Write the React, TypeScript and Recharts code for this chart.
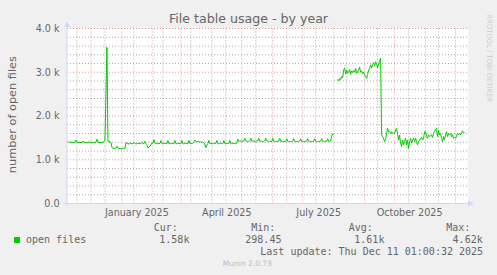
import { LineChart, Line, XAxis, YAxis, CartesianGrid, ReferenceLine } from "recharts";

// daily "open files" values, day 0 = 7 Nov 2024
const NOV_2024 = [1400, 1420, 1395, 1390, 1400, 1395, 1400, 1390, 1400, 1450, 1400, 1390, 1395, 1400, 1390, 1400, 1430, 1395, 1390, 1400, 1395, 1390, 1410, 1400];
const DEC_2024 = [1400, 1395, 1390, 1400, 1395, 1400, 1470, 1400, 1390, 1395, 1400, 1395, 1400, 1410, 1450, 2500, 3570, 1420, 1420, 1410, 1400, 1280, 1260, 1260, 1265, 1270, 1310, 1270, 1260, 1255, 1260];
const JAN_2025 = [1260, 1260, 1270, 1265, 1390, 1370, 1365, 1360, 1370, 1380, 1365, 1360, 1400, 1370, 1360, 1365, 1370, 1380, 1365, 1370, 1400, 1370, 1365, 1420, 1370, 1350, 1270, 1290, 1310, 1340, 1380];
const FEB_2025 = [1380, 1460, 1380, 1370, 1365, 1370, 1375, 1370, 1440, 1370, 1365, 1370, 1375, 1370, 1365, 1440, 1370, 1365, 1370, 1375, 1370, 1365, 1440, 1370, 1365, 1370, 1375, 1370];
const MAR_2025 = [1370, 1440, 1370, 1365, 1370, 1375, 1370, 1365, 1440, 1370, 1375, 1370, 1380, 1400, 1450, 1420, 1410, 1420, 1410, 1400, 1410, 1395, 1400, 1390, 1360, 1275, 1330, 1370, 1440, 1365, 1370];
const APR_2025 = [1370, 1365, 1370, 1375, 1370, 1440, 1370, 1365, 1370, 1375, 1370, 1365, 1440, 1370, 1365, 1370, 1375, 1370, 1440, 1370, 1365, 1370, 1375, 1370, 1365, 1380, 1470, 1430, 1420, 1425];
const MAY_2025 = [1420, 1425, 1430, 1490, 1430, 1420, 1425, 1420, 1430, 1490, 1425, 1420, 1425, 1420, 1415, 1425, 1430, 1490, 1425, 1420, 1425, 1420, 1415, 1430, 1490, 1430, 1420, 1425, 1420, 1415, 1420];
const JUN_2025 = [1490, 1425, 1420, 1415, 1420, 1425, 1420, 1490, 1425, 1420, 1415, 1420, 1415, 1420, 1480, 1420, 1415, 1420, 1415, 1420, 1425, 1480, 1420, 1415, 1420, 1415, 1420, 1425, 1480, 1420];
const JUL_2025 = [1415, 1420, 1415, 1420, 1425, 1480, 1420, 1415, 1420, 1415, 1420, 1425, 1480, 1420, 1415, 1420, 1415, 1420, 1425, 1480, 1420, 1415, 1420, 1425, 1420, 1480, 1425, 1420, 1430, 1540, 1590];
const AUG_2025 = [1570, null, null, null, 2840, 2800, 2860, 2830, 2900, 2870, 3050, 3100, 2960, 3050, 2980, 3000, 3060, 2950, 3030, 2990, 3040, 3000, 3090, 2980, 3010, 3060, 3120, 3000, 3030, 2970, 3000];
const SEP_2025 = [2940, 2900, 2860, 2950, 3050, 3080, 3170, 3100, 3180, 3220, 3150, 3240, 3190, 3100, 3200, 3250, 3320, 1570, 1530, 1480, 1410, 1490, 1600, 1720, 1640, 1650, 1600, 1640, 1600, 1610];
const OCT_2025 = [1600, 1680, 1720, 1600, 1450, 1560, 1380, 1300, 1450, 1340, 1420, 1490, 1340, 1450, 1260, 1410, 1490, 1380, 1450, 1490, 1410, 1490, 1410, 1340, 1410, 1450, 1490, 1510, 1450, 1480, 1640];
const NOV_2025 = [1640, 1530, 1490, 1570, 1530, 1550, 1570, 1510, 1600, 1650, 1700, 1720, 1530, 1680, 1570, 1600, 1490, 1410, 1530, 1450, 1570, 1640, 1530, 1600, 1570, 1600, 1530, 1570, 1490, 1510];
const DEC_2025 = [1490, 1530, 1600, 1570, 1600, 1570, 1600, 1660, 1640, 1610];

const MONTHS = [NOV_2024, DEC_2024, JAN_2025, FEB_2025, MAR_2025, APR_2025, MAY_2025, JUN_2025, JUL_2025, AUG_2025, SEP_2025, OCT_2025, NOV_2025, DEC_2025];

const X_TICK_DAYS = [70, 160, 252, 343];
const X_TICK_LABELS = ["January 2025", "April 2025", "July 2025", "October 2025"];
const Y_TICKS = [0, 1000, 2000, 3000, 4000];

// grid (day numbers of month starts / minor lines, value steps)
const MONTH_START_DAYS = [24, 55, 86, 114, 145, 175, 206, 236, 267, 298, 328, 359, 389];
const MINOR_DAYS = [10, 38, 67, 96, 124, 159, 189, 220, 249, 280, 311, 342, 372];
const MINOR_VALUES = [200, 400, 600, 800, 1200, 1400, 1600, 1800, 2200, 2400, 2600, 2800, 3200, 3400, 3600, 3800];
const MAJOR_VALUES = [1000, 2000, 3000, 4000];

const LEGEND_STATS = [
  { label: "Cur:", value: "1.58k", lx: 153.8, vx: 159.3 },
  { label: "Min:", value: "298.45", lx: 251.2, vx: 245.3 },
  { label: "Avg:", value: "1.61k", lx: 348.7, vx: 354.3 },
  { label: "Max:", value: "4.62k", lx: 446.2, vx: 452.6 },
];

const data = MONTHS.flat().map((v, day) => ({ day, v }));

const FONT = "'DejaVu Sans', sans-serif";
const MONO = "'DejaVu Sans Mono', monospace";
const TEXT = "#666666";
const AXIS = "#CFD6F8";
const GRID = "rgba(143,143,143,0.75)";
const MGRID = "rgba(222,79,79,0.6)";

const fmtY = (v: number) => (v === 0 ? "0.0" : `${(v / 1000).toFixed(1)} k`);
const fmtX = (d: number) => X_TICK_LABELS[X_TICK_DAYS.indexOf(d)] ?? "";

export default function App() {
  return (
    <div style={{ position: "relative", width: 497, height: 275, background: "#f0f0f0", fontFamily: FONT, color: TEXT, overflow: "hidden" }}>
      <style>{"body{margin:0}"}</style>
      <div style={{ position: "absolute", left: 0, top: 12.5, width: 497, textAlign: "center", fontSize: 12.6, lineHeight: "12.6px" }}>
        File table usage - by year
      </div>
      <div
        style={{
          position: "absolute", left: 13.2 - 100, top: 115 - 5.65, width: 200, height: 11.3,
          textAlign: "center", fontSize: 11.3, lineHeight: "11.3px", transform: "rotate(-90deg)", whiteSpace: "nowrap",
        }}
      >
        number of open files
      </div>
      <div
        style={{
          position: "absolute", left: 488.5 - 60, top: 58.3 - 3.4, width: 120, height: 6.8,
          textAlign: "center", fontSize: 6.8, lineHeight: "6.8px", transform: "rotate(90deg)", whiteSpace: "nowrap", color: "#cccccc",
        }}
      >
        RRDTOOL / TOBI OETIKER
      </div>

      <div style={{ position: "absolute", left: 0, top: 0 }}>
        <LineChart width={497} height={275} data={data} margin={{ top: 28.5, right: 29, bottom: 51.5, left: 0 }}>
          <CartesianGrid horizontal={false} vertical={false} fill="#ffffff" stroke="none" />
          {MINOR_VALUES.map((v) => (
            <ReferenceLine key={`h${v}`} y={v} stroke={GRID} strokeDasharray="1 2" />
          ))}
          {MINOR_DAYS.map((d) => (
            <ReferenceLine key={`v${d}`} x={d} stroke={GRID} strokeDasharray="1 2" />
          ))}
          {MAJOR_VALUES.map((v) => (
            <ReferenceLine key={`H${v}`} y={v} stroke={MGRID} strokeDasharray="1 2" />
          ))}
          {MONTH_START_DAYS.map((d) => (
            <ReferenceLine key={`V${d}`} x={d} stroke={MGRID} strokeDasharray="1 2" />
          ))}
          <XAxis
            type="number"
            dataKey="day"
            domain={[0.5, 401.5]}
            ticks={X_TICK_DAYS}
            tickFormatter={fmtX}
            height={20}
            tickLine={false}
            tickSize={0}
            tickMargin={6}
            axisLine={{ stroke: AXIS }}
            tick={{ fill: TEXT, fontSize: 9.6, fontFamily: FONT }}
            interval={0}
          />
          <YAxis
            type="number"
            domain={[0, 4000]}
            ticks={Y_TICKS}
            tickFormatter={fmtY}
            width={67}
            tickLine={false}
            tickSize={0}
            tickMargin={7.5}
            axisLine={{ stroke: AXIS }}
            tick={{ fill: TEXT, fontSize: 9.6, fontFamily: FONT }}
            interval={0}
          />
          <Line dataKey="v" type="linear" stroke="#00cc00" strokeWidth={1} dot={false} connectNulls={false} isAnimationActive={false} />
        </LineChart>
      </div>

      <svg width={497} height={275} style={{ position: "absolute", left: 0, top: 0, pointerEvents: "none" }}>
        <line x1={63} y1={203.5} x2={67} y2={203.5} stroke={AXIS} />
        <line x1={67} y1={203.5} x2={67} y2={206.5} stroke={AXIS} />
        <polygon points="64,27 70,27 67,21.5" fill={AXIS} />
        <polygon points="468,200.5 468,206.5 473.5,203.5" fill={AXIS} />
      </svg>

      <div style={{ position: "absolute", left: 14, top: 237, width: 6, height: 6, background: "#00cc00" }} />
      <div style={{ position: "absolute", left: 26, top: 235.2, fontFamily: MONO, fontSize: 10, lineHeight: "10px", whiteSpace: "pre" }}>
        open files
      </div>
      {LEGEND_STATS.map((s) => (
        <div key={s.label}>
          <div style={{ position: "absolute", left: s.lx, top: 222.9, fontFamily: MONO, fontSize: 10, lineHeight: "10px", whiteSpace: "pre" }}>
            {s.label}
          </div>
          <div style={{ position: "absolute", left: s.vx, top: 235.2, fontFamily: MONO, fontSize: 10, lineHeight: "10px", whiteSpace: "pre" }}>
            {s.value}
          </div>
        </div>
      ))}
      <div style={{ position: "absolute", left: 260.3, top: 246.9, fontFamily: MONO, fontSize: 10, lineHeight: "10px", whiteSpace: "pre" }}>
        Last update: Thu Dec 11 01:00:32 2025
      </div>
      <div style={{ position: "absolute", left: 222.8, top: 260.4, fontSize: 7.5, lineHeight: "7.5px", whiteSpace: "pre", color: "#bbbbbb" }}>
        Munin 2.0.73
      </div>
    </div>
  );
}
